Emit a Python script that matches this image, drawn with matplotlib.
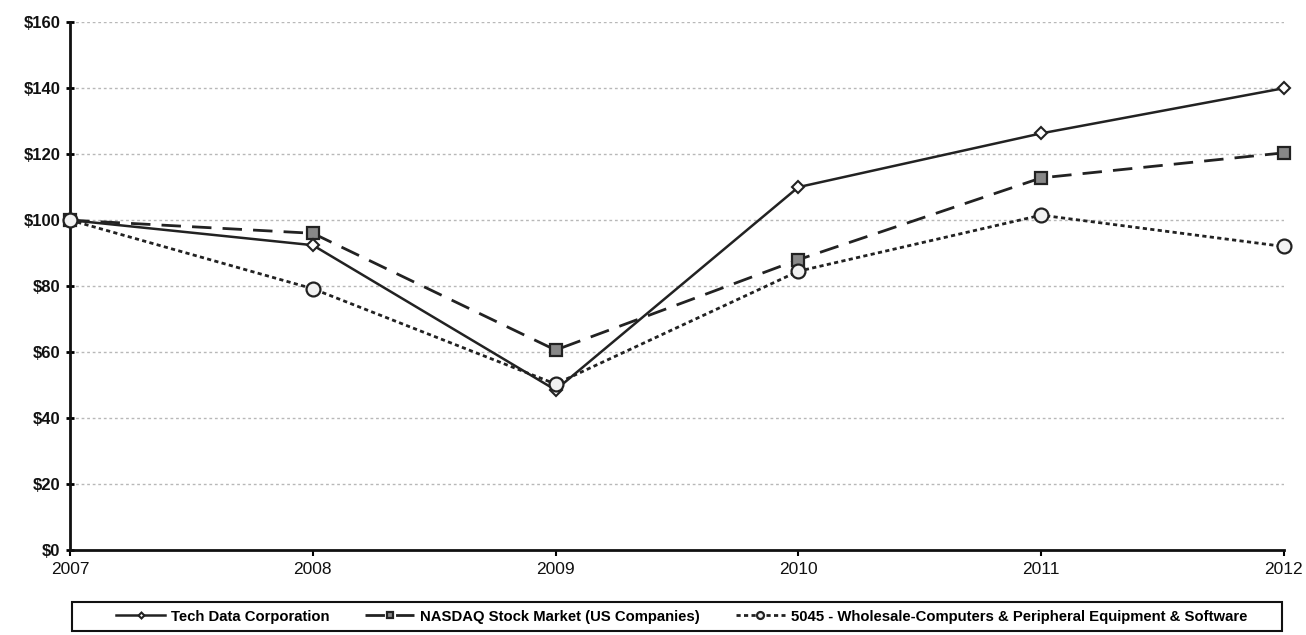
import matplotlib.pyplot as plt
from matplotlib.patches import Rectangle
import numpy as np

plt.rcParams['font.family'] = ['Liberation Sans', 'DejaVu Sans']

years = [2007, 2008, 2009, 2010, 2011, 2012]
tech_data = [100, 92.4, 48.5, 110, 126.3, 140]
nasdaq = [100, 96, 60.6, 88, 112.8, 120.4]
wholesale = [100, 79.2, 50.3, 84.5, 101.5, 92]
labels = ['Tech Data Corporation', 'NASDAQ Stock Market (US Companies)',
          '5045 - Wholesale-Computers & Peripheral Equipment & Software']
yticks = np.arange(0, 161, 20)

fig = plt.figure(figsize=(13.06, 6.35), dpi=100)
ax = fig.add_axes([0.0536, 0.134, 0.9295, 0.831])

l1, = ax.plot(years, tech_data, color='#222222', lw=1.8, marker='D', ms=6,
              mfc='white', mec='#222222', mew=1.5, zorder=4, clip_on=False)
l2, = ax.plot(years, nasdaq, color='#222222', lw=2, ls=(0, (7, 4)), marker='s', ms=9,
              mfc='#888888', mec='#222222', mew=1.6, zorder=3, clip_on=False)
l3, = ax.plot(years, wholesale, color='#222222', lw=2, ls=(0, (1.5, 1.2)), marker='o', ms=10,
              mfc='#f2f2f2', mec='#222222', mew=1.6, zorder=5, clip_on=False)

ax.set_xlim(2007, 2012)
ax.set_ylim(0, 160)
ax.set_yticks(yticks)
ax.set_yticklabels(['$%d' % v for v in yticks])
ax.set_xticks(years)
for y in yticks[1:]:
    ax.axhline(y, color='#b8b8b8', lw=1.0, ls=(0, (2, 2)), zorder=1)

for s in ['top', 'right']:
    ax.spines[s].set_visible(False)
for s in ['left', 'bottom']:
    ax.spines[s].set_linewidth(2)
    ax.spines[s].set_color('#111111')
ax.tick_params(axis='y', direction='inout', length=6, width=2, labelsize=12, pad=4)
ax.tick_params(axis='x', direction='out', length=4, width=1.5, labelsize=12.5, pad=5)
for t in ax.get_yticklabels():
    t.set_fontweight('bold')
for t in ax.get_xticklabels() + ax.get_yticklabels():
    t.set_color('#111111')

# legend frame drawn by hand so it can be wider than the entries
fig.patches.append(Rectangle((72 / 1306, 4 / 635), 1210 / 1306, 29 / 635,
                             transform=fig.transFigure, fill=False,
                             edgecolor='#111111', lw=1.5))
fig.legend([l1, l2, l3], labels, ncol=3, loc='center',
           bbox_to_anchor=(0.522, 18.5 / 635), frameon=False,
           prop={'weight': 'bold', 'size': 10.7}, handlelength=3.3,
           handletextpad=0.4, markerscale=0.5, columnspacing=2.4)

plt.savefig('out.png')
